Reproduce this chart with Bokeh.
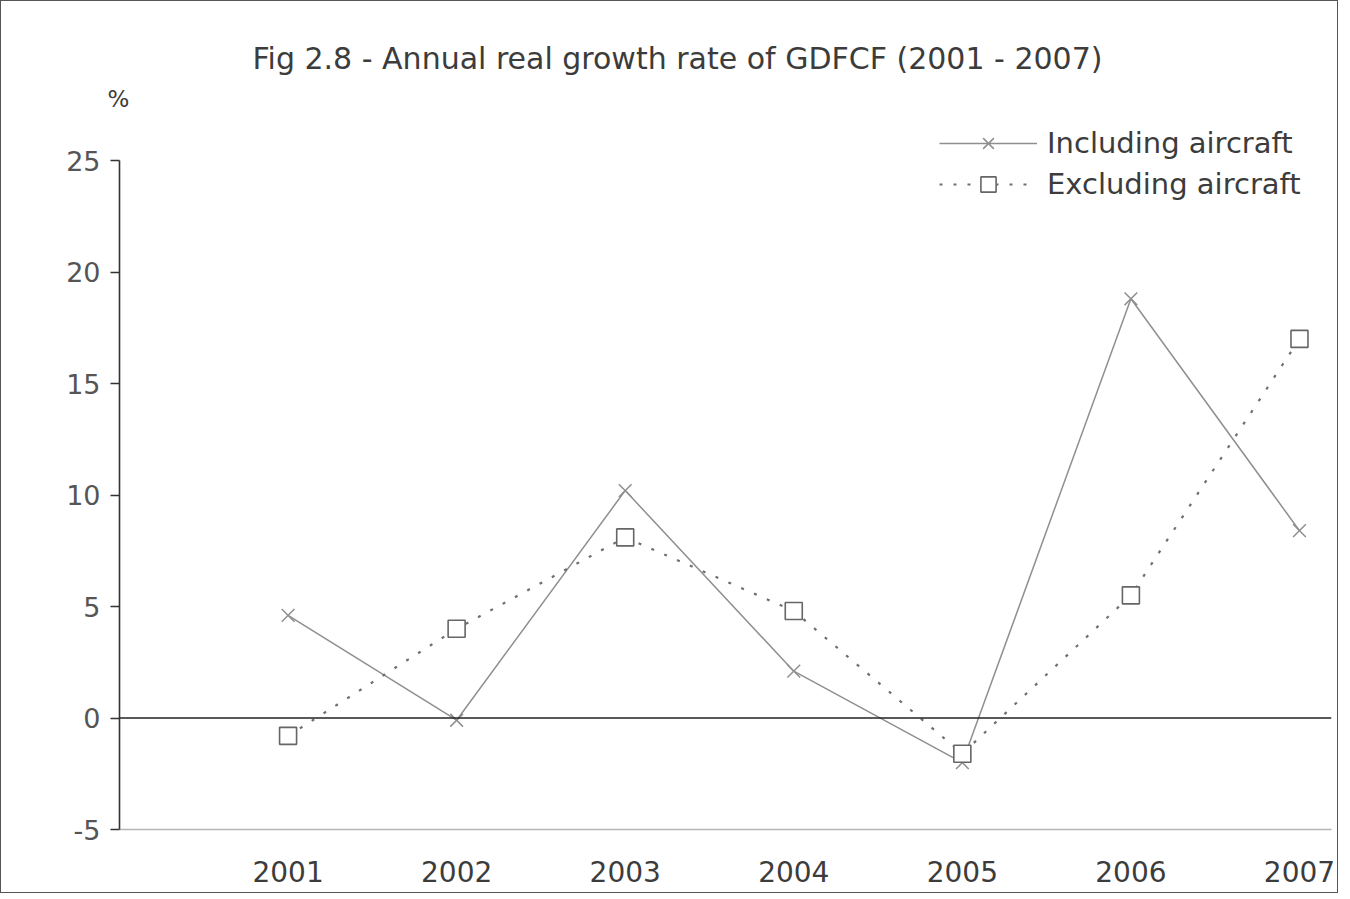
from bokeh.plotting import figure
from bokeh.models import Span, FixedTicker, Legend, LegendItem, Title
from bokeh.embed import file_html
from bokeh.resources import INLINE

years = [2001, 2002, 2003, 2004, 2005, 2006, 2007]
including_aircraft = [4.6, -0.1, 10.2, 2.1, -2.0, 18.8, 8.4]
excluding_aircraft = [-0.8, 4.0, 8.1, 4.8, -1.6, 5.5, 17.0]
y_ticks = [-5, 0, 5, 10, 15, 20, 25]
title_text = "Fig 2.8 - Annual real growth rate of GDFCF (2001 - 2007)"

FONT = "DejaVu Sans"
LINE_GRAY = "#8f8f8f"
TEXT = "#3c3c3c"

p = figure(width=1338, height=893, output_backend="svg", toolbar_location=None,
           x_range=(2000, 2007.19), y_range=(-5, 26.84),
           min_border_left=118, min_border_right=8, min_border_bottom=65,
           min_border_top=118)
p.styles = {"border": "1.5px solid #555"}

p.grid.visible = False
p.outline_line_color = None
p.background_fill_color = "white"
p.border_fill_color = "white"

main_title = Title(text=title_text, text_font=FONT, text_font_size="30px",
                   text_font_style="normal", text_color=TEXT, align="left",
                   offset=133, standoff=2)
pct_title = Title(text="%", text_font=FONT, text_font_size="23px",
                  text_font_style="normal", text_color=TEXT, align="left",
                  offset=-12, standoff=15)
p.title = None
p.above = [pct_title, main_title]

# y axis
p.yaxis.ticker = FixedTicker(ticks=y_ticks)
p.yaxis.bounds = (-5, 25)
p.yaxis.major_label_overrides = {-5: "-5"}
p.yaxis.axis_line_color = "#333"
p.yaxis.axis_line_width = 1.6
p.yaxis.major_tick_line_color = "#333"
p.yaxis.major_tick_line_width = 1.4
p.yaxis.major_tick_in = 0
p.yaxis.major_tick_out = 9
p.yaxis.minor_tick_line_color = None
p.yaxis.major_label_text_font = FONT
p.yaxis.major_label_text_font_size = "27px"
p.yaxis.major_label_text_color = "#555"
p.yaxis.major_label_standoff = 10

# x axis
p.xaxis.ticker = FixedTicker(ticks=years)
p.xaxis.axis_line_color = "#b5b5b5"
p.xaxis.axis_line_width = 1.3
p.xaxis.major_tick_line_color = None
p.xaxis.minor_tick_line_color = None
p.xaxis.major_label_text_font = FONT
p.xaxis.major_label_text_font_size = "28px"
p.xaxis.major_label_text_color = TEXT
p.xaxis.major_label_standoff = 25

zero = Span(location=0, dimension="width", line_color="#222", line_width=1.7)
p.add_layout(zero)

l1 = p.line(years, including_aircraft, line_color=LINE_GRAY, line_width=1.5)
m1 = p.scatter(years, including_aircraft, marker="x", size=18, line_color=LINE_GRAY,
               line_width=1.5)
l2 = p.line(years, excluding_aircraft, line_color="#6f6f6f", line_width=2.2,
            line_dash="3 11")
m2 = p.scatter(years, excluding_aircraft, marker="square", size=17, line_color="#666",
               fill_color="white", line_width=1.6)

legend = Legend(items=[LegendItem(label="Including aircraft", renderers=[l1, m1]),
                       LegendItem(label="Excluding aircraft", renderers=[l2, m2])],
                location=(820, 626))
legend.glyph_width = 98
legend.glyph_height = 38
legend.label_standoff = 10
legend.spacing = 3
legend.padding = 0
legend.margin = 0
legend.border_line_color = None
legend.background_fill_alpha = 0
legend.label_text_font = FONT
legend.label_text_font_size = "29px"
legend.label_text_color = TEXT
p.add_layout(legend)

open("out.html", "w").write(file_html(p, INLINE))
